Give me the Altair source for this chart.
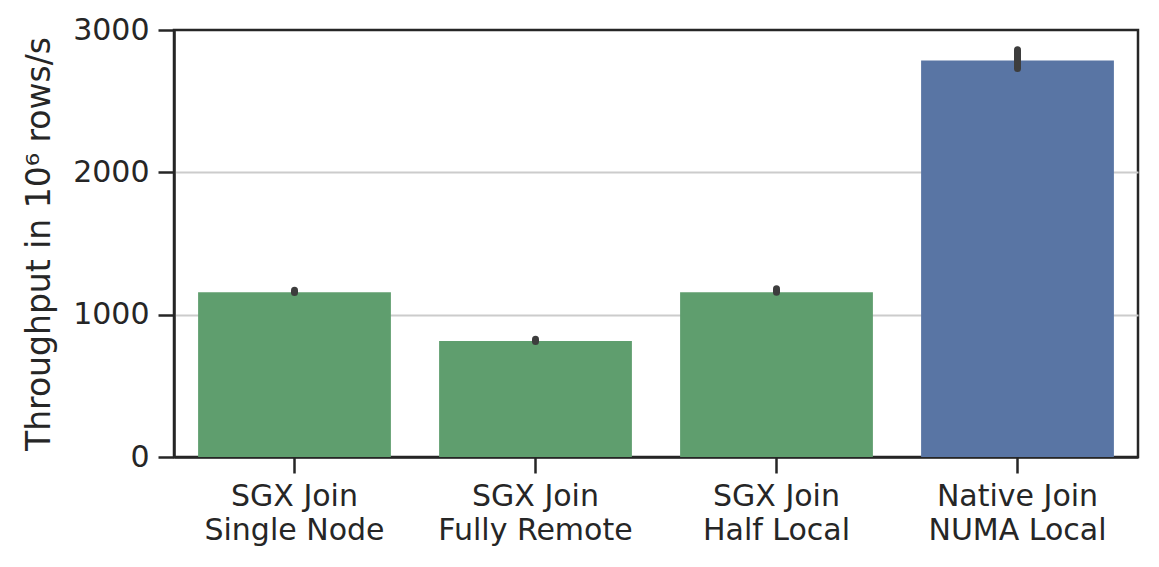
import altair as alt
import pandas as pd

categories = ["SGX Join\nSingle Node", "SGX Join\nFully Remote", "SGX Join\nHalf Local", "Native Join\nNUMA Local"]
groups = ["SGX", "SGX", "SGX", "Native"]
throughput = [1157, 815, 1158, 2785]
ci_low = [1155, 812, 1158, 2730]
ci_high = [1172, 828, 1182, 2862]
y_ticks = [0, 1000, 2000, 3000]

df = pd.DataFrame({
    "cat": categories,
    "group": groups,
    "value": throughput,
    "lo": ci_low,
    "hi": ci_high,
})

FONT = "DejaVu Sans"
DARK = "#262626"
FS = 30

x = alt.X("cat:N", sort=categories, title=None,
          scale=alt.Scale(paddingInner=0.2, paddingOuter=0.1),
          axis=alt.Axis(labelAngle=0, labelExpr="split(datum.label, '\\n')",
                        labelFontSize=FS, labelFont=FONT, labelColor=DARK,
                        labelPadding=8, labelLineHeight=34, labelLimit=0,
                        tickSize=16, tickWidth=2.5, tickColor=DARK,
                        domainColor=DARK, domainWidth=2.5, grid=False))

y_axis = alt.Axis(values=y_ticks, format="d", labelFontSize=FS, labelFont=FONT, labelColor=DARK,
                  labelPadding=9, tickSize=16, tickWidth=2.5, tickColor=DARK,
                  domainColor=DARK, domainWidth=2.5,
                  grid=True,
                  gridColor={"condition": {"test": "datum.value > 0 && datum.value < 3000", "value": "#cccccc"},
                             "value": "transparent"},
                  gridWidth=2,
                  title="Throughput in 10⁶ rows/s", titleFontSize=33, titleFont=FONT,
                  titleFontWeight="normal", titleColor=DARK, titlePadding=16)

bars = alt.Chart(df).mark_bar().encode(
    x=x,
    y=alt.Y("value:Q", scale=alt.Scale(domain=[0, 3000], nice=False), axis=y_axis),
    color=alt.Color("group:N", scale=alt.Scale(domain=["SGX", "Native"], range=["#5f9e6e", "#5975a4"]), legend=None),
)

errs = alt.Chart(df).mark_rule(strokeWidth=7, strokeCap="round", color="#3d3d3d").encode(
    x=alt.X("cat:N", sort=categories),
    y="lo:Q",
    y2="hi:Q",
)

chart = (bars + errs).properties(
    width=964, height=427,
    autosize=alt.AutoSizeParams(type="none"),
    padding={"left": 166, "top": 22, "right": 13, "bottom": 102},
).configure_view(stroke=DARK, strokeWidth=2.5)

chart.save("out.html", embed_options={"renderer": "svg", "actions": False})
